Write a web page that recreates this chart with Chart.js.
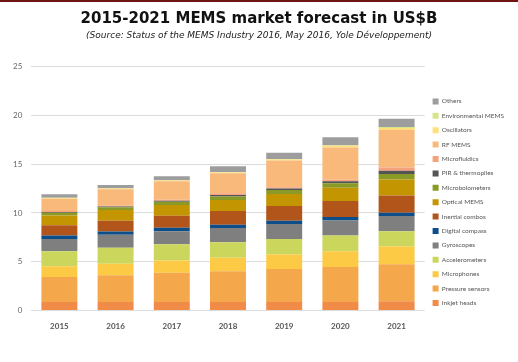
<!DOCTYPE html>
<html>
<head>
<meta charset="utf-8">
<script src="https://cdn.jsdelivr.net/npm/chart.js@4/dist/chart.umd.min.js"></script>
<style>
  html, body { margin: 0; padding: 0; background: #fff; }
  #wrap { position: relative; width: 518px; height: 362px; }
  #topline { position: absolute; left: 0; top: 0; width: 518px; height: 2px; background: #6e1414; }
</style>
</head>
<body>
<div id="wrap">
  <div id="topline"></div>
  <canvas id="memsChart" width="518" height="362"></canvas>
</div>
<script>
// Years and segment values (US$B), bottom of the stack first
const years = ['2015', '2016', '2017', '2018', '2019', '2020', '2021'];
const yTicks = [0, 5, 10, 15, 20, 25];

const inkjetHeads     = [0.86, 0.85, 0.86, 0.86, 0.86, 0.86, 0.93];
const pressureSensors = [2.57, 2.75, 3.00, 3.16, 3.40, 3.60, 3.80];
const microphones     = [1.10, 1.20, 1.27, 1.38, 1.48, 1.60, 1.82];
const accelerometers  = [1.54, 1.62, 1.65, 1.60, 1.60, 1.62, 1.58];
const gyroscopes      = [1.27, 1.34, 1.34, 1.45, 1.52, 1.55, 1.56];
const digitalCompass  = [0.35, 0.35, 0.35, 0.35, 0.35, 0.35, 0.33];
const inertialCombos  = [1.06, 1.10, 1.24, 1.40, 1.50, 1.64, 1.76];
const opticalMems     = [1.00, 1.10, 1.10, 1.14, 1.23, 1.38, 1.65];
const microbolometers = [0.27, 0.28, 0.34, 0.34, 0.41, 0.46, 0.56];
const pirThermopiles  = [0.07, 0.07, 0.10, 0.17, 0.17, 0.20, 0.33];
const microfluidics   = [0.10, 0.07, 0.10, 0.17, 0.13, 0.16, 0.34];
const rfMems          = [1.28, 1.70, 1.90, 2.06, 2.74, 3.30, 3.86];
const oscillators     = [0.07, 0.07, 0.07, 0.07, 0.10, 0.17, 0.20];
const environmental   = [0.03, 0.03, 0.04, 0.05, 0.05, 0.07, 0.10];
const others          = [0.35, 0.35, 0.40, 0.60, 0.65, 0.80, 0.86];

const series = [
    ['Inkjet heads', inkjetHeads, '#f08b48'],
    ['Pressure sensors', pressureSensors, '#f4a84b'],
    ['Microphones', microphones, '#fdca45'],
    ['Accelerometers', accelerometers, '#cbd65c'],
    ['Gyroscopes', gyroscopes, '#7f7f7f'],
    ['Digital compass', digitalCompass, '#0b4e8a'],
    ['Inertial combos', inertialCombos, '#b2551b'],
    ['Optical MEMS', opticalMems, '#c39500'],
    ['Microbolometers', microbolometers, '#8a9a26'],
    ['PIR & thermopiles', pirThermopiles, '#555555'],
    ['Microfluidics', microfluidics, '#f5a27c'],
    ['RF MEMS', rfMems, '#f8b97a'],
    ['Oscillators', oscillators, '#fde07a'],
    ['Environmental MEMS', environmental, '#d8e48a'],
    ['Others', others, '#9d9d9d']
];

document.addEventListener('DOMContentLoaded', () => {
    const ctx = document.getElementById('memsChart');
    new Chart(ctx, {
        type: 'bar',
        data: {
            labels: years,
            datasets: series.map(([label, data, color]) => ({
                label: label,
                data: data,
                backgroundColor: color,
                borderWidth: 0,
                barPercentage: 0.64,
                categoryPercentage: 1.0
            }))
        },
        options: {
            responsive: false,
            animation: false,
            layout: {
                padding: { left: 4, right: 4, top: 4, bottom: 28 }
            },
            plugins: {
                title: {
                    display: true,
                    text: '2015-2021 MEMS market forecast in US$B',
                    color: '#111',
                    font: { family: "'DejaVu Sans', sans-serif", size: 15, weight: 'bold' },
                    padding: { top: 6, bottom: 2 }
                },
                subtitle: {
                    display: true,
                    text: '(Source: Status of the MEMS Industry 2016, May 2016, Yole Développement)',
                    color: '#222',
                    font: { family: "'DejaVu Sans', sans-serif", size: 9, style: 'italic' },
                    padding: { bottom: 26 }
                },
                legend: {
                    position: 'right',
                    reverse: true,
                    // blank title only pushes the item column down
                    title: {
                        display: true,
                        text: ' ',
                        font: { size: 7 },
                        padding: { top: 29, bottom: 29 }
                    },
                    labels: {
                        boxWidth: 6,
                        boxHeight: 6,
                        padding: 7.9,
                        color: '#555',
                        font: { family: "'Lato', sans-serif", size: 6.5 }
                    }
                },
                tooltip: { enabled: false }
            },
            scales: {
                x: {
                    stacked: true,
                    grid: { display: false },
                    border: { display: false },
                    ticks: {
                        color: '#555',
                        font: { family: "'Lato', sans-serif", size: 8, weight: 'bold' }
                    }
                },
                y: {
                    stacked: true,
                    min: 0,
                    max: 25,
                    afterBuildTicks: (axis) => { axis.ticks = yTicks.map(v => ({ value: v })); },
                    grid: { color: '#dcdcdc', drawTicks: false },
                    border: { display: false },
                    ticks: {
                        padding: 9,
                        color: '#666',
                        font: { family: "'Lato', sans-serif", size: 8 }
                    }
                }
            }
        }
    });
});
</script>
</body>
</html>
